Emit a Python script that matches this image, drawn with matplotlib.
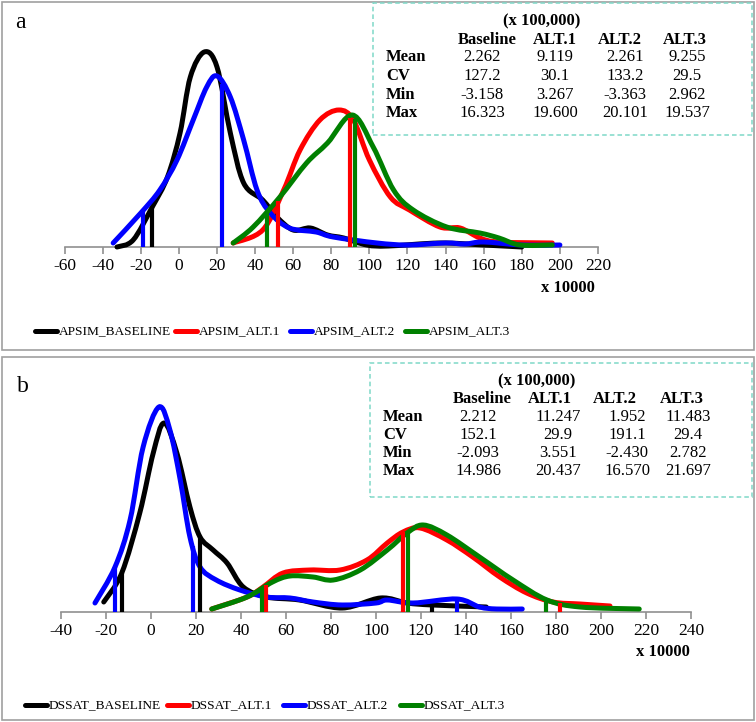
import numpy as np
import matplotlib.pyplot as plt
from matplotlib.patches import Rectangle, PathPatch
from matplotlib.path import Path
from matplotlib.lines import Line2D

plt.rcParams['font.family'] = ['Liberation Serif', 'DejaVu Serif']
plt.rcParams['axes.unicode_minus'] = False

W, H = 756, 722

# ---- panel a (APSIM), x in units of 10000, y = relative frequency (arbitrary) ----
a_base_x = [-32.5, -24, -14, -6, 0.6, 6, 13.3, 20, 27, 34, 44, 51.4, 60, 69, 78, 86.5, 98.6, 110, 137, 160, 180]
a_base_y = [0, 7, 40, 70, 114, 170, 195, 180, 114, 64, 47, 30, 17, 19, 12, 9, 2, 1, 4, 2, 0]
a_alt1_x = [28.5, 44, 55, 63.6, 74, 84, 91.6, 100, 111, 121, 137, 147.6, 158, 168, 196]
a_alt1_y = [4, 17, 57, 97, 127, 137, 127, 87, 50, 37, 20, 19, 9, 5, 4]
a_alt2_x = [-34.5, -20, -10, -1, 7.5, 14.6, 20, 27, 34, 41, 48, 58, 72, 81, 104, 120, 140, 150, 160, 180, 200]
a_alt2_y = [4, 34, 57, 87, 127, 160, 171, 150, 107, 57, 34, 19, 15, 10, 4, 2, 4, 3, 5, 2, 2]
a_alt3_x = [28.5, 39, 53, 67, 78, 91, 102, 112.7, 123, 140.6, 158, 168, 179, 196]
a_alt3_y = [4, 20, 50, 84, 104, 132, 100, 57, 37, 20, 14, 9, 2, 2]
a_marks = {'base': [-14], 'alt1': [52, 89.8], 'alt2': [-18.7, 22.6], 'alt3': [46, 92.5]}

# ---- panel b (DSSAT) ----
b_base_x = [-21, -13, -5, 1, 5.8, 11.5, 17.3, 21.8, 27.6, 33.8, 41, 51.4, 66, 85, 102, 113.8, 125, 149]
b_base_y = [10, 39, 99, 159, 189, 159, 105, 75, 62, 49, 25, 15, 12, 4, 14, 9, 7, 5]
b_alt1_x = [27, 42.7, 49.8, 58.7, 70.7, 84, 96, 105, 112, 119.6, 131.5, 143, 155, 167, 178.7, 190.7, 204]
b_alt1_y = [3, 15, 25, 39, 42, 42, 52, 69, 80, 84, 72, 55, 35, 19, 10, 8, 6]
b_alt2_x = [-24.9, -16, -9.3, -3.5, 3.5, 8.4, 13, 17.3, 21.8, 29, 39.5, 51.4, 61.8, 72, 85, 100, 105, 116.5, 136, 146, 153.6, 165]
b_alt2_y = [9, 45, 92, 165, 205, 182, 132, 75, 45, 32, 22, 15, 14, 10, 7, 9, 12, 9, 13, 5, 3, 3]
b_alt3_x = [27, 42.7, 54, 61.8, 72, 81, 93, 105, 113.8, 121, 131.5, 146, 160.9, 176, 190.7, 217]
b_alt3_y = [3, 15, 30, 36, 35, 32, 42, 62, 79, 87, 77, 55, 32, 12, 5, 3]
b_marks = {'base': [-13, 21.8, 125], 'alt1': [51, 112, 181.8], 'alt2': [-16, 18.7, 136], 'alt3': [49.3, 114, 175.5]}

cols = ['Baseline', 'ALT.1', 'ALT.2', 'ALT.3']
rows = ['Mean', 'CV', 'Min', 'Max']
a_stats = [['2.262', '9.119', '2.261', '9.255'],
           ['127.2', '30.1', '133.2', '29.5'],
           ['-3.158', '3.267', '-3.363', '2.962'],
           ['16.323', '19.600', '20.101', '19.537']]
b_stats = [['2.212', '11.247', '1.952', '11.483'],
           ['152.1', '29.9', '191.1', '29.4'],
           ['-2.093', '3.551', '-2.430', '2.782'],
           ['14.986', '20.437', '16.570', '21.697']]

colors = {'base': 'black', 'alt1': '#ff0000', 'alt2': '#0000ff', 'alt3': '#008000'}
keys = ['base', 'alt1', 'alt2', 'alt3']


def fx(px):
    return px / W


def fy(py):
    return 1 - py / H


def smooth_path(x, y):
    # Excel-like smoothed line: Catmull-Rom segments drawn as cubic Bezier
    p = np.column_stack([x, y]).astype(float)
    verts = [p[0]]
    codes = [Path.MOVETO]
    n = len(p)
    for i in range(n - 1):
        p0 = p[i - 1] if i > 0 else p[i]
        p3 = p[i + 2] if i + 2 < n else p[i + 1]
        c1 = p[i] + (p[i + 1] - p0) / 6
        c2 = p[i + 1] - (p3 - p[i]) / 6
        verts += [c1, c2, p[i + 1]]
        codes += [Path.CURVE4] * 3
    return Path(verts, codes)


fig = plt.figure(figsize=(W / 100, H / 100), dpi=100)

# panel frames
for (y0, y1) in [(2, 350), (357, 720)]:
    fig.patches.append(Rectangle((fx(2), fy(y1)), fx(752), (y1 - y0) / H,
                                 transform=fig.transFigure, fill=False,
                                 edgecolor='#a0a0a0', linewidth=1.2))


def panel(left_px, right_px, top_px, base_px, xlim, ticks, series, marks, ymax):
    ax = fig.add_axes([fx(left_px), fy(base_px), (right_px - left_px) / W, (base_px - top_px) / H])
    for key in keys:
        x, y = series[key]
        ax.add_patch(PathPatch(smooth_path(x, y), fill=False, edgecolor=colors[key], lw=3.6,
                               capstyle='round', joinstyle='round', clip_on=False, zorder=3))
    for key in keys:
        x, y = series[key]
        for m in marks[key]:
            ax.vlines(m, 0, np.interp(m, x, y), color=colors[key], lw=3.0, zorder=3)
    ax.set_xlim(*xlim)
    ax.set_ylim(0, ymax)
    ax.set_xticks(ticks)
    ax.set_yticks([])
    for s in ['top', 'right', 'left']:
        ax.spines[s].set_visible(False)
    ax.spines['bottom'].set_color('#909090')
    ax.spines['bottom'].set_linewidth(1.2)
    ax.tick_params(axis='x', colors='#909090', length=5, width=1.2, labelsize=12.5,
                   labelcolor='black', pad=3)
    ax.patch.set_alpha(0)
    return ax


ax_a = panel(64.6, 598, 40, 247, (-60, 220), np.arange(-60, 221, 20),
             {'base': (a_base_x, a_base_y), 'alt1': (a_alt1_x, a_alt1_y),
              'alt2': (a_alt2_x, a_alt2_y), 'alt3': (a_alt3_x, a_alt3_y)},
             a_marks, 207)
ax_b = panel(61, 691, 400, 612, (-40, 240), np.arange(-40, 241, 20),
             {'base': (b_base_x, b_base_y), 'alt1': (b_alt1_x, b_alt1_y),
              'alt2': (b_alt2_x, b_alt2_y), 'alt3': (b_alt3_x, b_alt3_y)},
             b_marks, 212)

# panel letters and axis unit labels
fig.text(fx(15), fy(23), 'a', fontsize=17, va='center', ha='left')
fig.text(fx(17), fy(386), 'b', fontsize=17, va='center', ha='left')
fig.text(fx(568), fy(288), 'x 10000', fontsize=12, fontweight='bold', ha='center', va='center')
fig.text(fx(663), fy(652), 'x 10000', fontsize=12, fontweight='bold', ha='center', va='center')

# legends (line sample + label at fixed spots under each panel)
a_names = ['APSIM_BASELINE', 'APSIM_ALT.1', 'APSIM_ALT.2', 'APSIM_ALT.3']
b_names = ['DSSAT_BASELINE', 'DSSAT_ALT.1', 'DSSAT_ALT.2', 'DSSAT_ALT.3']
for names, ly, starts in [(a_names, 331, [35, 175, 290, 405]),
                          (b_names, 705, [25, 167, 283, 400])]:
    for key, name, sx in zip(keys, names, starts):
        fig.add_artist(Line2D([fx(sx), fx(sx + 22)], [fy(ly), fy(ly)], transform=fig.transFigure,
                              color=colors[key], lw=3.6, solid_capstyle='round'))
        fig.text(fx(sx + 24), fy(ly), name, fontsize=9.6, ha='left', va='center')


# stats boxes
def stats_box(x0, y0, x1, y1, stats, col_x, val_x, y_title, y_head, y_rows):
    fig.patches.append(Rectangle((fx(x0), fy(y1)), (x1 - x0) / W, (y1 - y0) / H,
                                 transform=fig.transFigure, fill=True, facecolor='white',
                                 edgecolor='#7fd8c8', linewidth=1.1, linestyle=(0, (3, 2)),
                                 zorder=5))
    fig.text(fx(col_x[0] + (col_x[1] - col_x[0]) * 0.8), fy(y_title), '(x 100,000)',
             fontsize=12, fontweight='bold', ha='center', va='center', zorder=6)
    for c, cx in zip(cols, col_x):
        fig.text(fx(cx), fy(y_head), c, fontsize=12, fontweight='bold', ha='center', va='center', zorder=6)
    for r, ry, vals in zip(rows, y_rows, stats):
        fig.text(fx(x0 + 13), fy(ry), r, fontsize=12, fontweight='bold', ha='left', va='center', zorder=6)
        for v, vx in zip(vals, val_x):
            fig.text(fx(vx), fy(ry), v, fontsize=12, ha='center', va='center', zorder=6)


stats_box(373, 3, 752, 135, a_stats, [487, 555, 620, 685], [482, 555, 625, 687],
          21, 40, [57, 76, 95, 113])
stats_box(370, 363, 752, 497, b_stats, [482, 550, 615, 682], [478, 558, 627, 688],
          381, 399, [417, 435, 453, 471])

fig.savefig('out.png', dpi=100)
